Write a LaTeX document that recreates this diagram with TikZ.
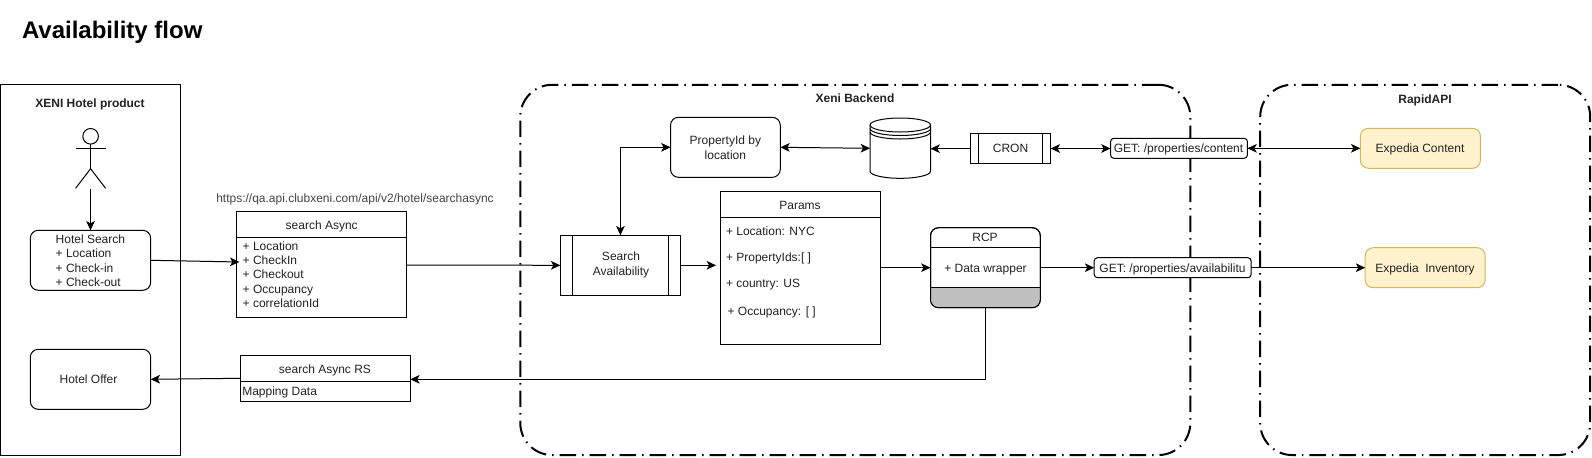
\documentclass[tikz,border=0pt]{standalone}
\usepackage{fontspec}
\setmainfont{Liberation Sans}
\usetikzlibrary{arrows.meta}
\definecolor{txt}{HTML}{222222}
\definecolor{yfill}{HTML}{FFF2CC}
\definecolor{yline}{HTML}{D6B656}
\definecolor{grayband}{HTML}{BFBFBF}
\tikzset{
  sz/.style 2 args={minimum width=#1*0.75pt,minimum height=#2*0.75pt},
  every node/.style={inner sep=0pt,outer sep=0pt,text=txt,font=\fontsize{9pt}{11.25pt}\selectfont},
  ln/.style={text height=9.6pt,text depth=1.9pt},
  sharpbox/.style={draw=black,line width=0.75pt,fill=white},
  roundbox/.style={draw=black,line width=0.75pt,fill=white,rounded corners=6pt},
  apibox/.style={draw=black,line width=0.75pt,fill=white,rounded corners=2.5pt},
  yellowbox/.style={draw=yline,line width=0.75pt,fill=yfill,rounded corners=6pt},
  zone/.style={draw=black,line width=1.5pt,rounded corners=24pt,dash pattern=on 12.4pt off 4.5pt on 1.1pt off 4.5pt},
  conn/.style={draw=black,line width=0.75pt,-{Stealth[length=7pt,width=6.5pt,inset=1.8pt]}},
  biconn/.style={draw=black,line width=0.75pt,{Stealth[length=7pt,width=6.5pt,inset=1.8pt]}-{Stealth[length=7pt,width=6.5pt,inset=1.8pt]}},
  rule/.style={draw=black,line width=0.75pt},
  boldlabel/.style={ln,font=\fontsize{9pt}{11.25pt}\selectfont\bfseries},
}
\begin{document}
\begin{tikzpicture}[x=0.75pt,y=-0.75pt]
\useasboundingbox (0,0) rectangle (1592,457);
% title
\node[anchor=west,font=\fontsize{18pt}{20pt}\selectfont\bfseries,text=black,text height=16pt,text depth=4pt] (title) at (22,30) {Availability flow};
% containers
\node[sharpbox,sz={180}{371}] (xeni) at (90.5,269.5) {};
\node[boldlabel] (xenilabel) at (90,102.5) {XENI Hotel product};
\node[zone,sz={670}{370.3}] (backend) at (855.3,269.9) {};
\node[boldlabel] (backendlabel) at (855,97.7) {Xeni Backend};
\node[zone,sz={330}{370.3}] (rapid) at (1425.2,269.9) {};
\node[boldlabel] (rapidlabel) at (1425,98) {RapidAPI};
% actor
\node[draw=black,line width=0.75pt,circle,minimum size=15.6*0.75pt] (head) at (90.6,136.3) {};
\coordinate (hip) at (90.6,168.7);
\coordinate (footL) at (75.6,188.3);
\coordinate (footR) at (105.6,188.3);
\coordinate (handL) at (75.6,148.3);
\coordinate (handR) at (105.6,148.3);
\coordinate (actorbase) at (90.5,188.5);
\draw[rule] (head.south) -- (hip);
\draw[rule] (handL) -- (handR);
\draw[rule] (footL) -- (hip) -- (footR);
% hotel search
\node[roundbox,sz={120.4}{60}] (search) at (90.5,260.3) {};
\node[ln,anchor=west] (s1) at (55.7,238.7) {Hotel Search};
\node[ln,anchor=west] (s2) at (55.7,252.7) {+ Location};
\node[ln,anchor=west] (s3) at (55.7,267.7) {+ Check-in};
\node[ln,anchor=west] (s4) at (55.7,281.7) {+ Check-out};
\node[roundbox,sz={120.4}{60}] (offer) at (90.5,379.3) {};
\node[ln] (offertext) at (88.5,378.7) {Hotel Offer};
% search async
\node[ln,text=txt!85!white] (url) at (355,197) {https://qa.api.clubxeni.com/api/v2/hotel/searchasync};
\node[sharpbox,sz={170.3}{106}] (async) at (321.8,264.7) {};
\draw[rule] (236.7,237.3) -- (407,237.3);
\node[ln] (asynctitle) at (321.7,224.7) {search Async};
\node[ln,anchor=west] (a1) at (242.7,245.7) {+ Location};
\node[ln,anchor=west] (a2) at (242.7,259.7) {+ CheckIn};
\node[ln,anchor=west] (a3) at (242.7,273.7) {+ Checkout};
\node[ln,anchor=west] (a4) at (242.7,288.7) {+ Occupancy};
\node[ln,anchor=west] (a5) at (242.7,302.7) {+ correlationId};
% search async RS
\node[sharpbox,sz={170}{46}] (rs) at (325.3,378.3) {};
\draw[rule] (240.3,381.3) -- (410.3,381.3);
\node[ln] (rstitle) at (325,368.7) {search Async RS};
\node[ln,anchor=west] (rsrow) at (242.3,390.7) {Mapping Data};
% search availability
\node[sharpbox,sz={120.2}{60}] (avail) at (620.4,265.3) {};
\draw[rule] (572.7,235.3) -- (572.7,295.3);
\draw[rule] (668.7,235.3) -- (668.7,295.3);
\node[align=center] (availtext) at (621,265.3) {Search\\Availability};
% property id
\node[roundbox,sz={109.8}{60}] (prop) at (725.4,147.3) {};
\node[align=center] (proptext) at (725.4,147.3) {PropertyId by\\location};
% database
\node[sz={60.5}{60}] (db) at (900.25,148.3) {};
\draw[rule,fill=white] (870,125) arc[start angle=180,end angle=360,x radius=30.25,y radius=7] -- (930.5,171.3) arc[start angle=0,end angle=180,x radius=30.25,y radius=7] -- cycle;
\draw[rule] (870,125) arc[start angle=180,end angle=0,x radius=30.25,y radius=7];
\draw[rule] (870,128.5) arc[start angle=180,end angle=0,x radius=30.25,y radius=7];
\draw[rule] (870,132) arc[start angle=180,end angle=0,x radius=30.25,y radius=7];
% cron
\node[sharpbox,sz={80.3}{30}] (cron) at (1010.5,148) {};
\draw[rule] (978.3,133) -- (978.3,163);
\draw[rule] (1042.7,133) -- (1042.7,163);
\node[ln] (crontext) at (1010.5,147.7) {CRON};
% params
\node[sharpbox,sz={159.8}{152.3}] (params) at (800.3,267.9) {};
\draw[rule] (720.4,217) -- (880.2,217);
\node[ln] (paramstitle) at (800,204.7) {Params};
\node[ln,anchor=west] (p1) at (726,230.7) {+ Location: NYC};
\node[ln,anchor=west] (p2) at (726,256.7) {+ PropertyIds:[ ]};
\node[ln,anchor=west] (p3) at (726,282.7) {+ country: US};
\node[ln,anchor=west] (p4) at (727.6,310.7) {+ Occupancy: [ ]};
% rcp
\node[roundbox,sz={109.8}{80}] (rcp) at (985.4,267.7) {};
\path[fill=grayband] (930.5,287.7) -- (1040.3,287.7) [rounded corners=6pt] -- (1040.3,307.7) -- (930.5,307.7) [sharp corners] -- cycle;
\draw[rule,rounded corners=6pt] (rcp.north west) rectangle (rcp.south east);
\draw[rule] (930.5,247.7) -- (1040.3,247.7);
\draw[rule] (930.5,287.7) -- (1040.3,287.7);
\node[ln] (rcptitle) at (985,236.7) {RCP};
\node[ln] (rcprow) at (985.5,267) {+ Data wrapper};
% api boxes
\node[apibox,sz={136.9}{20}] (getcontent) at (1179,148.3) {};
\node[ln] (getcontenttext) at (1178.5,147.7) {GET: /properties/content};
\node[apibox,sz={157}{20}] (getavail) at (1172.7,267.7) {};
\node[ln] (getavailtext) at (1172.5,267) {GET: /properties/availabilitu};
% expedia
\node[yellowbox,sz={120.1}{40}] (content) at (1420.4,148.3) {};
\node[ln] (contenttext) at (1420,147.7) {Expedia Content};
\node[yellowbox,sz={120}{40}] (inventory) at (1425.2,267.7) {};
\node[ln] (inventorytext) at (1425,267) {Expedia\ \ Inventory};
% free ends
\coordinate (asyncin) at (239.3,262);
\coordinate (paramsin) at (716,265.3);
% connectors
\draw[conn] (actorbase) -- (search.north);
\draw[conn] (search.east) -- (asyncin);
\draw[conn] (async.east |- 0,265) -- (avail.west);
\draw[conn] (avail.east) -- (paramsin);
\draw[biconn] (avail.north) |- (prop.west);
\draw[biconn] (prop.east) -- (db.west);
\draw[conn] (cron.west |- 0,148.7) -- (db.east |- 0,148.7);
\draw[biconn] (cron.east |- 0,148.5) -- (getcontent.west |- 0,148.5);
\draw[biconn] (getcontent.east) -- (content.west);
\draw[conn] (params.east |- rcp.west) -- (rcp.west);
\draw[conn] (rcp.east) -- (getavail.west);
\draw[conn] (getavail.east) -- (inventory.west);
\draw[conn] (rcp.south) |- (rs.east |- 0,379.3);
\draw[conn] (rs.west) -- (offer.east);
\end{tikzpicture}
\end{document}
